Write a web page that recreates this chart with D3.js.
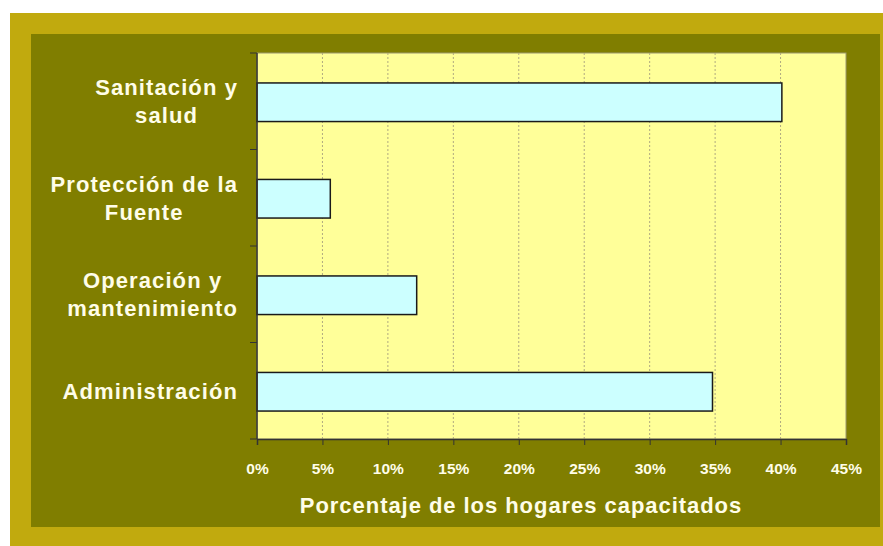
<!DOCTYPE html>
<html><head><meta charset="utf-8">
<script src="https://cdnjs.cloudflare.com/ajax/libs/d3/7.8.5/d3.min.js"></script>
<style>html,body{margin:0;padding:0;background:#fff;}svg{display:block;}</style>
</head><body>
<script>
const categories = [["Sanitación y","salud"],["Protección de la","Fuente"],["Operación y","mantenimiento"],["Administración"]];
const values = [0.401, 0.056, 0.122, 0.348];
const xTicks = [0,0.05,0.10,0.15,0.20,0.25,0.30,0.35,0.40,0.45];
const xTitle = "Porcentaje de los hogares capacitados";

const W=883,H=546;
const svg=d3.select("body").append("svg").attr("width",W).attr("height",H);
svg.append("rect").attr("x",10).attr("y",13).attr("width",873).attr("height",533).attr("fill","#c1aa0e");
svg.append("rect").attr("x",31).attr("y",34).attr("width",849).attr("height",493).attr("fill","#807e00");

const L=257,R=846,T=53,B=439;
const x=d3.scaleLinear().domain([0,0.45]).range([L,R]);
const y=d3.scaleBand().domain(categories.map((d,i)=>i)).range([T,B]).padding(0);

svg.append("rect").attr("x",L).attr("y",T).attr("width",R-L).attr("height",B-T).attr("fill","#ffff99")
  .attr("stroke","#9c9870").attr("stroke-width",1);

// gridlines
svg.append("g").selectAll("line").data(xTicks.filter(t=>t>0&&t<0.45)).join("line")
  .attr("x1",d=>x(d)).attr("x2",d=>x(d)).attr("y1",T).attr("y2",B)
  .attr("stroke","#b0aa80").attr("stroke-width",1).attr("stroke-dasharray","2,2");

// bars
const bh=y.bandwidth()*0.4;
svg.append("g").selectAll("rect").data(values).join("rect")
  .attr("x",x(0)).attr("y",(d,i)=>y(i)+y.bandwidth()/2-bh/2+1)
  .attr("width",d=>x(d)-x(0)).attr("height",bh)
  .attr("fill","#ccffff").attr("stroke","#1a1a1a").attr("stroke-width",1.5);

// x axis
const xa=svg.append("g").attr("transform",`translate(0,${B})`)
  .call(d3.axisBottom(x).tickValues(xTicks).tickSize(6).tickPadding(18).tickFormat(d3.format(".0%")));
xa.select(".domain").attr("stroke","#333").attr("stroke-width",1.5);
xa.selectAll(".tick line").attr("stroke","#333");
xa.selectAll("text").attr("fill","#fffde8").attr("font-family","Liberation Sans, Arial, sans-serif")
  .attr("font-weight","bold").attr("font-size","15.5px");

// y axis
const ya=svg.append("g").attr("transform",`translate(${L},0)`);
ya.append("line").attr("x1",0).attr("x2",0).attr("y1",T).attr("y2",B).attr("stroke","#333").attr("stroke-width",1.5);
const yt=[T].concat(categories.map((d,i)=>y(i)+y.bandwidth()));
ya.selectAll("line.t").data(yt).join("line").attr("class","t")
  .attr("x1",-7).attr("x2",0).attr("y1",d=>d).attr("y2",d=>d).attr("stroke","#333");

// category labels
const lh=28;
categories.forEach((lines,i)=>{
  const cy=y(i)+y.bandwidth()/2;
  const g=svg.append("g");
  const ts=lines.map((s,k)=>g.append("text").text(s)
    .attr("font-family","Liberation Sans, Arial, sans-serif").attr("font-weight","bold")
    .attr("font-size","22px").attr("letter-spacing","1.1px").attr("fill","#fffde8")
    .attr("text-anchor","middle")
    .attr("y",cy+8+(k-(lines.length-1)/2)*lh));
  const mw=d3.max(ts,t=>t.node().getComputedTextLength());
  ts.forEach(t=>t.attr("x",238-mw/2));
});

svg.append("text").text(xTitle).attr("x",521).attr("y",513)
  .attr("text-anchor","middle").attr("font-family","Liberation Sans, Arial, sans-serif")
  .attr("font-weight","bold").attr("font-size","22px").attr("letter-spacing","0.95px").attr("fill","#fffde8");
</script>
</body></html>
